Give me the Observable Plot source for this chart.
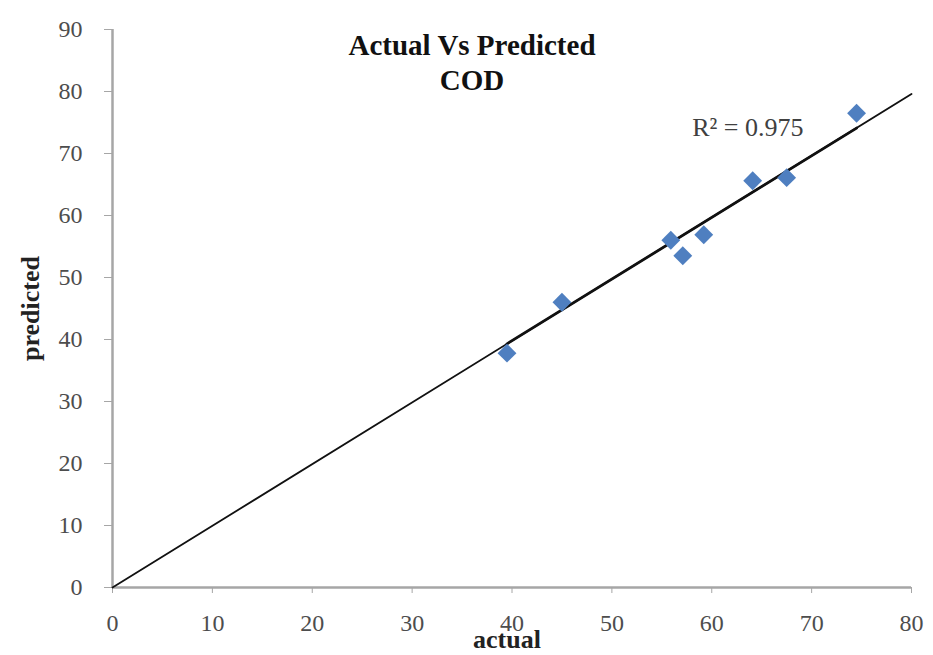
<!DOCTYPE html>
<html><head><meta charset="utf-8">
<script src="https://cdn.jsdelivr.net/npm/d3@7"></script>
<script src="https://cdn.jsdelivr.net/npm/@observablehq/plot@0.6"></script>
<style>html,body{margin:0;padding:0;background:#fff;overflow:hidden}</style>
</head><body><div id="chart"></div>
<script>
// Data
const actual    = [39.5, 45.0, 55.9, 57.1, 59.2, 64.1, 67.5, 74.5];
const predicted = [37.8, 46.0, 56.0, 53.5, 56.9, 65.6, 66.1, 76.5];
const xTicks = [0, 10, 20, 30, 40, 50, 60, 70, 80];
const yTicks = [0, 10, 20, 30, 40, 50, 60, 70, 80, 90];
const fitLineX = [0, 80];
const fitLineY = [0, 79.6];
const trendX = [39.5, 74.5];
const trendY = [39.3, 74.1];
const titleLines = ["Actual Vs Predicted", "COD"];
const r2Label = "R\u00b2 = 0.975";
const xLabel = "actual";
const yLabel = "predicted";

const points = actual.map((a, i) => ({actual: a, predicted: predicted[i]}));
const fitLine = fitLineX.map((x, i) => ({x, y: fitLineY[i]}));
const trend = trendX.map((x, i) => ({x, y: trendY[i]}));

const serif = "Liberation Serif, Times New Roman, serif";

const chart = Plot.plot({
  width: 933,
  height: 655,
  marginLeft: 112,
  marginRight: 22,
  marginTop: 29,
  marginBottom: 68,
  style: {fontFamily: serif, background: "#fff", overflow: "visible"},
  x: {domain: [0, 80], axis: null},
  y: {domain: [0, 90], axis: null},
  marks: [
    Plot.ruleX([0], {stroke: "#a6a6a6", strokeWidth: 2.5}),
    Plot.ruleY([0], {stroke: "#a6a6a6", strokeWidth: 2.5}),
    Plot.axisX(xTicks, {anchor: "bottom", tickSize: 6, tickPadding: 20, fontSize: 24,
      stroke: "#a6a6a6", fill: "#4d4d4d", label: null}),
    Plot.axisY(yTicks, {anchor: "left", tickSize: 8, tickPadding: 22, fontSize: 24,
      stroke: "#a6a6a6", fill: "#4d4d4d", label: null}),
    Plot.line(fitLine, {x: "x", y: "y", stroke: "#111", strokeWidth: 1.8}),
    Plot.line(trend, {x: "x", y: "y", stroke: "#111", strokeWidth: 2.8}),
    Plot.dot(points, {x: "actual", y: "predicted", symbol: "diamond2", r: 8.5,
      fill: "#4f7fc0", stroke: "none"}),
    Plot.text([titleLines.join("\n")], {frameAnchor: "top", dx: -40, dy: 1, lineAnchor: "top",
      fontSize: 29, fontWeight: "bold", fill: "#111", lineHeight: 1.2}),
    Plot.text([r2Label], {frameAnchor: "top-right", dx: -108, dy: 98, textAnchor: "end",
      lineAnchor: "middle", fontSize: 26, fill: "#404040"}),
    Plot.text([xLabel], {frameAnchor: "bottom", dx: -5, dy: 52, lineAnchor: "middle",
      fontSize: 26, fontWeight: "bold", fill: "#222"}),
    Plot.text([yLabel], {frameAnchor: "left", dx: -82, rotate: -90, textAnchor: "middle",
      lineAnchor: "middle", fontSize: 26, fontWeight: "bold", fill: "#222"})
  ]
});
document.getElementById("chart").appendChild(chart);
</script>
</body></html>
